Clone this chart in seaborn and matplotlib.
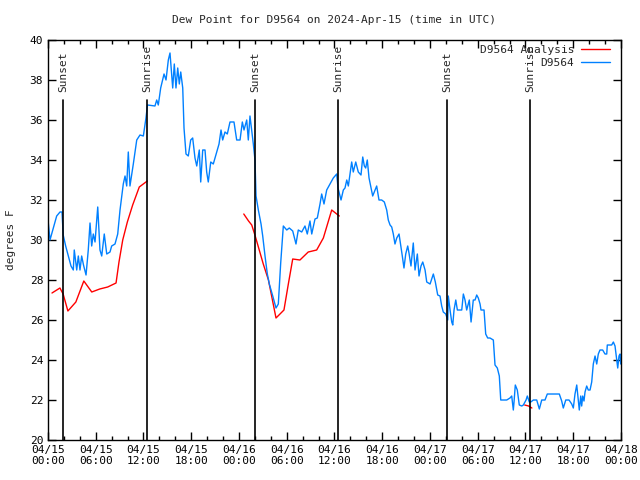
import matplotlib
matplotlib.use('Agg')
import matplotlib.pyplot as plt
import matplotlib.dates as mdates
import pandas as pd
import numpy as np
import seaborn as sns

# chart start, all times below are hours after this
start = pd.Timestamp('2024-04-15 00:00')

# observed dew point (D9564)
obs_hours = [0.04, 0.25, 0.67, 1.09, 1.51, 1.76, 1.91, 2.22, 2.55, 2.89, 3.18, 3.30, 3.61, 3.81, 4.02,
             4.23, 4.46, 4.78, 5.06, 5.28, 5.49, 5.69, 5.91, 6.25, 6.53, 6.75, 7.07, 7.38, 7.79, 8.00,
             8.42, 8.76, 9.05, 9.46, 9.68, 9.89, 10.09, 10.30, 10.72, 11.15, 11.56, 11.98, 12.31, 12.50,
             13.44, 13.66, 13.86, 14.16, 14.58, 14.83, 15.12, 15.33, 15.67, 15.87, 16.08, 16.30, 16.50,
             16.68, 16.93, 17.09, 17.34, 17.63, 17.93, 18.18, 18.47, 18.69, 19.01, 19.19, 19.44, 19.73,
             19.94, 20.14, 20.45, 20.77, 21.20, 21.49, 21.74, 21.95, 22.24, 22.53, 22.87, 23.37, 23.71,
             24.13, 24.42, 24.63, 24.97, 25.17, 25.38, 25.80, 26.01, 26.14, 26.43, 26.77, 26.98, 27.27,
             27.56, 27.81, 28.24, 28.65, 28.94, 29.24, 29.57, 30.00, 30.32, 30.75, 31.16, 31.45, 31.88,
             32.29, 32.58, 32.92, 33.14, 33.55, 33.84, 34.18, 34.39, 34.68, 35.02, 35.44, 35.85, 36.28,
             36.44, 36.82, 37.11, 37.32, 37.54, 37.74, 38.16, 38.36, 38.67, 38.99, 39.33, 39.55, 39.75,
             39.92, 40.12, 40.34, 40.55, 40.80, 41.00, 41.30, 41.59, 41.93, 42.26, 42.56, 42.76, 42.98,
             43.19, 43.39, 43.60, 43.82, 44.11, 44.32, 44.52, 44.73, 44.95, 45.20, 45.36, 45.61, 45.90,
             46.12, 46.41, 46.62, 46.87, 47.09, 47.38, 47.59, 48.01, 48.42, 48.67, 48.97, 49.26, 49.47,
             49.67, 49.98, 50.23, 50.30, 50.52, 50.73, 50.86, 51.02, 51.24, 51.44, 51.99, 52.19, 52.40,
             52.61, 52.94, 53.16, 53.44, 53.66, 53.87, 54.07, 54.29, 54.41, 54.79, 55.00, 55.25, 55.54,
             55.96, 56.17, 56.46, 56.71, 56.89, 57.64, 58.05, 58.27, 58.47, 58.56, 58.72, 58.97, 59.22,
             59.53, 59.73, 60.07, 60.23, 60.48, 60.66, 60.99, 61.41, 61.74, 62.04, 62.45, 62.74, 64.25,
             64.55, 64.75, 65.06, 65.47, 65.81, 66.01, 66.22, 66.44, 66.64, 66.76, 66.94, 67.06, 67.19,
             67.35, 67.48, 67.69, 67.89, 68.11, 68.32, 68.52, 68.74, 68.95, 69.15, 69.36, 69.70, 69.99,
             70.21, 70.28, 70.83, 71.04, 71.25, 71.46, 71.59, 71.75, 71.88, 71.96]
obs_vals = [30.85, 30.0, 30.6, 31.2, 31.4, 31.4, 30.25, 29.7, 29.2, 28.7, 28.5, 29.5, 28.5, 29.2, 28.5,
            29.2, 28.75, 28.25, 29.5, 30.85, 29.7, 30.3, 29.9, 31.65, 29.5, 29.2, 30.3, 29.3, 29.4, 29.7,
            29.8, 30.3, 31.5, 32.8, 33.2, 32.7, 34.4, 32.7, 33.8, 35.0, 35.25, 35.2, 36.1, 36.75,
            36.7, 37.0, 36.75, 37.6, 38.3, 38.0, 39.0, 39.35, 37.6, 38.8, 37.6, 38.6, 37.8,
            38.4, 37.6, 35.6, 34.3, 34.2, 35.0, 35.1, 34.1, 33.7, 34.5, 32.9, 34.5, 34.5,
            33.4, 32.9, 33.9, 33.8, 34.4, 34.8, 35.5, 35.0, 35.4, 35.3, 35.9, 35.9, 35.0,
            35.0, 35.9, 35.5, 36.0, 35.0, 36.2, 34.8, 34.0, 32.2, 31.5, 30.8, 30.2, 29.2,
            28.3, 27.8, 27.2, 26.6, 26.8, 28.85, 30.7, 30.5, 30.6, 30.45, 29.8, 30.5, 30.4,
            30.7, 30.3, 30.95, 30.3, 31.05, 31.1, 31.8, 32.3, 31.8, 32.5, 32.8, 33.1, 33.3,
            32.6, 32.0, 32.5, 32.6, 33.0, 32.7, 33.9, 33.4, 33.9, 33.4, 33.25, 34.15, 33.7,
            33.6, 34.0, 33.1, 32.7, 32.2, 32.4, 32.7, 32.0, 32.0, 31.9, 31.5, 31.0, 30.75,
            30.65, 30.3, 29.8, 30.1, 30.3, 29.75, 29.2, 28.6, 29.3, 29.7, 29.35, 28.7, 29.85,
            28.5, 29.3, 28.2, 28.7, 28.9, 28.5, 27.9, 27.8, 28.3, 27.9, 27.25, 27.2, 26.7,
            26.4, 26.3, 26.0, 27.2, 26.5, 25.9, 25.75, 26.5, 27.0, 26.5, 26.5, 27.3, 27.0,
            26.5, 27.0, 25.9, 27.0, 27.0, 27.25, 27.1, 26.8, 26.5, 26.5, 25.3, 25.1, 25.1,
            25.0, 23.75, 23.6, 23.2, 22.0, 22.0, 22.1, 22.2, 21.5, 21.9, 22.75, 22.5, 21.75,
            21.7, 21.75, 22.0, 22.2, 21.9, 21.9, 22.0, 22.0, 21.55, 22.0, 22.0, 22.3, 22.3,
            21.95, 21.6, 22.0, 22.0, 21.8, 21.6, 22.3, 22.75, 22.0, 21.5, 22.2, 21.7, 22.2,
            21.95, 22.4, 22.7, 22.5, 22.5, 22.9, 23.8, 24.2, 23.8, 24.3, 24.5, 24.5, 24.3,
            24.3, 24.75, 24.75, 24.9, 24.7, 24.0, 23.6, 24.2, 24.3, 23.8]

# analysis series, three separate pieces
ana_hours = [0.5, 1.5, 1.9, 2.5, 3.5, 4.5, 5.5, 6.5, 7.5, 8.55, 8.92, 9.39, 9.97, 10.64, 11.47, 12.48,
             24.6, 25.2, 25.6, 26.0, 26.4, 27.05, 27.7, 28.2, 28.65, 29.65, 30.2, 30.75, 31.66, 32.7,
             33.76, 34.6, 35.65, 36.6,
             59.9, 60.4, 60.8]
ana_vals = [27.35, 27.6, 27.3, 26.45, 26.9, 27.95, 27.4, 27.55, 27.65, 27.85, 28.9, 30.0, 30.9, 31.75,
            32.65, 32.95,
            31.3, 30.95, 30.75, 30.25, 29.7, 28.8, 28.0, 27.0, 26.1, 26.5, 27.8, 29.05, 29.0, 29.4,
            29.5, 30.1, 31.5, 31.2,
            21.75, 21.7, 21.6]
ana_piece = [0] * 16 + [1] * 18 + [2] * 3

sun_hours = [1.92, 12.48, 26.01, 36.47, 50.17, 60.6]
sun_labels = ['Sunset', 'Sunrise', 'Sunset', 'Sunrise', 'Sunset', 'Sunrise']

obs = pd.DataFrame({'time': start + pd.to_timedelta(obs_hours, unit='h'), 'dewpt': obs_vals})
ana = pd.DataFrame({'time': start + pd.to_timedelta(ana_hours, unit='h'), 'dewpt': ana_vals,
                    'piece': ana_piece})

sns.set_style('ticks')
plt.rcParams['font.family'] = ['DejaVu Sans Mono', 'DejaVu Sans']
plt.rcParams['font.size'] = 8

fig, ax = plt.subplots(figsize=(6.4, 4.8), dpi=100)
fig.subplots_adjust(left=0.075, right=0.9703, top=0.9167, bottom=0.0833)

sns.lineplot(data=ana, x='time', y='dewpt', units='piece', estimator=None, color='#ff0000',
             linewidth=1, ax=ax, legend=False)
sns.lineplot(data=obs, x='time', y='dewpt', color='#0080ff', linewidth=1, ax=ax, legend=False)

for h, lab in zip(sun_hours, sun_labels):
    t = start + pd.Timedelta(hours=h)
    ax.plot([t, t], [20, 37], color='black', linewidth=1.2)
    ax.text(t, 37.4, lab, rotation=90, ha='center', va='bottom', fontsize=8)

ax.set_xlim(start, start + pd.Timedelta(hours=72))
ax.set_ylim(20, 40)
ax.set_yticks(np.arange(20, 41, 2))
ax.xaxis.set_major_locator(mdates.HourLocator(byhour=[0, 6, 12, 18]))
ax.xaxis.set_minor_locator(mdates.HourLocator(byhour=range(0, 24, 2)))
ax.xaxis.set_major_formatter(mdates.DateFormatter('%m/%d\n%H:%M'))
ax.tick_params(which='both', direction='in', top=True, right=True, colors='black', labelsize=8)
ax.tick_params(which='major', length=6, width=1)
ax.tick_params(which='minor', length=3, width=1)
for s in ax.spines.values():
    s.set_visible(True)
    s.set_color('black')
    s.set_linewidth(1)

ax.set_xlabel('')
ax.set_ylabel('degrees F', fontsize=8, labelpad=10)
ax.set_title('Dew Point for D9564 on 2024-Apr-15 (time in UTC)', fontsize=8, pad=12)

# gnuplot-style key: right-aligned text, line sample to the right (overlaps Sunrise label as in gnuplot)
ax.text(0.918, 0.975, 'D9564 Analysis', transform=ax.transAxes, ha='right', va='center', fontsize=8)
ax.plot([0.93, 0.98], [0.977, 0.977], transform=ax.transAxes, color='#ff0000', linewidth=1)
ax.text(0.918, 0.943, 'D9564', transform=ax.transAxes, ha='right', va='center', fontsize=8)
ax.plot([0.93, 0.98], [0.945, 0.945], transform=ax.transAxes, color='#0080ff', linewidth=1)

fig.savefig('out.png', dpi=100)
